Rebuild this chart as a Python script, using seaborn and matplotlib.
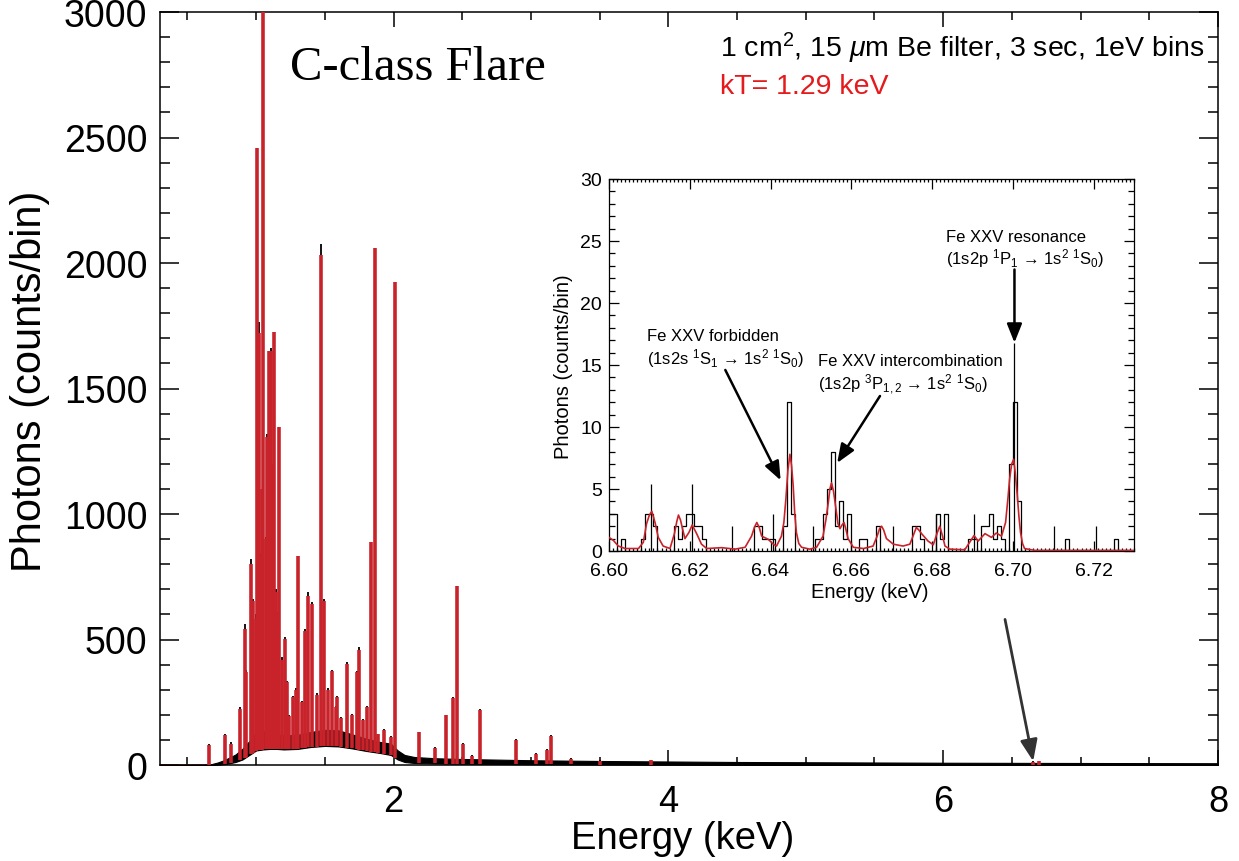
import numpy as np
import pandas as pd
import matplotlib
matplotlib.use("Agg")
import matplotlib.pyplot as plt
from matplotlib.ticker import MultipleLocator, FixedLocator, FormatStrFormatter
import seaborn as sns

# <--- main spectrum (0.3 - 8 keV) --->
# black data: noisy continuum drawn as a band between low and high envelope
cont_kev = [0.30, 0.55, 0.62, 0.68, 0.72, 0.76, 0.80, 0.85, 0.90, 0.95, 1.00, 1.05,
            1.10, 1.15, 1.20, 1.30, 1.40, 1.50, 1.60, 1.70, 1.80, 1.90, 1.98, 2.03,
            2.08, 2.15, 2.30, 2.50, 2.80, 3.00, 3.50, 4.00, 4.50, 5.00, 6.00, 7.00, 8.00]
cont_low = [0, 0, 0, 0, 1, 3, 6, 12, 22, 40, 58, 62,
            64, 64, 62, 64, 72, 76, 74, 66, 56, 48, 40, 22,
            12, 8, 6, 5, 4, 3, 2, 1, 0.5, 0, 0, 0, 0]
cont_high = [0, 0, 0, 4, 10, 18, 28, 42, 65, 95, 130, 135,
             128, 122, 118, 120, 132, 140, 138, 122, 105, 92, 85, 58,
             40, 32, 27, 24, 21, 19, 16, 14, 12, 11, 9, 8, 7]
model_cont = [0, 0, 0, 1, 4, 8, 14, 23, 38, 58, 80, 85,
              85, 82, 80, 80, 88, 95, 95, 85, 72, 62, 56, 36,
              25, 19, 16, 14, 12, 11, 8, 7, 5, 4, 3, 2, 2]

# emission lines: energy, model (red) height, data (black) height
line_kev = [0.653, 0.773, 0.815, 0.883, 0.917, 0.926, 0.965, 0.975, 0.997, 1.009,
            1.020, 1.033, 1.045, 1.053, 1.072, 1.082, 1.094, 1.106, 1.118, 1.130,
            1.142, 1.155, 1.166, 1.185, 1.208, 1.225, 1.239, 1.271, 1.290, 1.304,
            1.330, 1.353, 1.380, 1.409, 1.440, 1.474, 1.494, 1.520, 1.555, 1.580,
            1.591, 1.615, 1.659, 1.700, 1.731, 1.748, 1.780, 1.810, 1.838, 1.864,
            1.889, 1.930, 1.984, 2.010, 2.184, 2.299, 2.378, 2.434, 2.464, 2.507,
            2.573, 2.628, 2.888, 3.040, 3.113, 3.147, 3.288, 3.505, 3.870, 6.650,
            6.700]
line_model = [80, 120, 84, 223, 540, 369, 800, 655, 582, 2457,
              1720, 827, 1100, 3500, 900, 1308, 1650, 1650, 1200, 1725,
              688, 600, 1345, 420, 502, 330, 196, 269, 300, 831,
              250, 535, 675, 642, 280, 2030, 655, 300, 376, 230,
              269, 186, 402, 200, 372, 460, 180, 230, 887, 2058,
              122, 140, 110, 1923, 130, 66, 199, 266, 712, 84,
              36, 219, 100, 44, 61, 117, 24, 17, 20, 12,
              14]
line_data = [85, 125, 90, 230, 562, 380, 821, 660, 600, 2440,
             1765, 840, 1080, 3500, 910, 1320, 1600, 1660, 1190, 1700,
             700, 610, 1330, 430, 510, 335, 200, 275, 305, 825,
             255, 540, 690, 650, 285, 2076, 660, 305, 380, 235,
             275, 190, 410, 205, 375, 470, 185, 235, 880, 2050,
             125, 145, 115, 1900, 132, 70, 200, 270, 700, 86,
             40, 225, 102, 46, 63, 120, 26, 19, 15, 14,
             15]

# <--- inset: Fe XXV triplet, 1 eV bins starting at 6.600 keV --->
hist_counts = [3, 3, 0, 1, 0, 0, 0, 0, 1, 3,
               3, 2, 0, 0, 0, 0, 2, 1, 2, 3,
               3, 2, 2, 1, 0, 0, 0, 0, 0, 0,
               0, 0, 0, 0, 0, 0, 2, 2, 1, 1,
               1, 0, 0, 2, 12, 3, 0, 0, 0, 0,
               0, 1, 1, 3, 5, 8, 2, 4, 1, 3,
               0, 0, 1, 1, 0, 0, 2, 0, 0, 0,
               0, 0, 0, 0, 0, 2, 2, 1, 0, 0,
               0, 3, 1, 3, 0, 0, 0, 0, 0, 1,
               1, 0, 2, 2, 3, 1, 2, 1, 0, 7,
               12, 4, 0, 0, 0, 0, 0, 0, 0, 0,
               0, 0, 0, 1, 0, 0, 0, 0, 0, 0,
               0, 0, 0, 0, 0, 1, 0, 0, 0, 0]
# thin single-bin spikes (eV above 6.600 keV)
spike_ev = [10.5, 20.5, 30.4, 40.5, 50.5, 70.4, 80.9, 90.4, 100.2, 110.3, 120.5]
spike_top = [5.4, 5.4, 2.0, 3.0, 2.0, 2.0, 3.0, 3.0, 16.8, 2.0, 2.0]
# red model curve
model_ev = [0, 1.1, 2.3, 4.0, 7.3, 8.5, 9.3, 10.0, 10.6, 11.4, 12.2, 13.4, 15.1, 16.2,
            16.8, 17.2, 17.7, 18.2, 18.8, 19.8, 20.6, 21.7, 22.9, 24.2, 27.9, 31.2,
            33.7, 35.3, 36.0, 36.6, 37.2, 37.8, 39.4, 40.7, 41.5, 42.7, 43.3, 43.8,
            44.3, 44.8, 45.2, 45.6, 46.0, 46.4, 47.0, 47.7, 49.7, 51.4, 53.0, 53.7,
            54.3, 54.7, 55.1, 55.6, 56.2, 56.7, 57.2, 57.7, 58.2, 58.7, 59.2, 60.5,
            63.0, 65.4, 66.4, 67.0, 67.5, 68.0, 68.7, 70.4, 72.8, 74.5, 75.4, 76.1,
            76.7, 77.4, 79.0, 80.3, 81.2, 81.9, 82.6, 83.2, 84.4, 88.1, 89.3, 90.4,
            91.4, 93.1, 94.7, 95.9, 97.2, 98.2, 98.8, 99.2, 99.7, 100.2, 100.6, 101.1,
            101.5, 101.9, 102.4, 102.9, 105.4, 130.0]
model_counts = [1.1, 0.85, 0.4, 0.2, 0.2, 0.7, 2.2, 2.9, 3.2, 2.3, 1.1, 0.4, 0.2, 1.4,
                2.4, 2.9, 2.5, 1.8, 1.0, 1.5, 2.1, 1.4, 0.55, 0.2, 0.27, 0.15,
                0.3, 1.2, 1.9, 2.3, 1.9, 1.2, 0.95, 0.55, 0.4, 1.2, 2.3, 4.2,
                6.5, 7.8, 6.9, 5.3, 3.0, 1.5, 0.6, 0.3, 0.15, 0.3, 1.2, 2.5,
                3.9, 5.0, 5.5, 4.8, 3.4, 2.2, 1.8, 2.1, 2.3, 1.7, 1.0, 0.3,
                0.2, 0.4, 1.2, 1.8, 2.0, 1.7, 1.0, 0.55, 0.4, 0.55, 1.3, 1.9,
                1.7, 1.4, 0.8, 0.5, 1.4, 2.0, 1.2, 0.4, 0.15, 0.1, 0.7, 1.25,
                0.8, 1.4, 1.1, 1.45, 1.2, 2.3, 4.3, 5.8, 7.0, 7.4, 6.3, 4.5,
                2.8, 1.5, 0.6, 0.2, 0.05, 0.05]

red = "#c8232b"
txt_red = "#e41a1c"

sns.set_theme(style="ticks")
plt.rcParams["font.family"] = ["Liberation Sans", "DejaVu Sans"]
plt.rcParams["mathtext.fontset"] = "custom"
plt.rcParams["mathtext.rm"] = "Liberation Sans"
plt.rcParams["mathtext.it"] = "Liberation Sans:italic"
plt.rcParams["text.color"] = "black"
plt.rcParams["axes.labelcolor"] = "black"

fig = plt.figure(figsize=(12.39, 8.62), dpi=100)
ax = fig.add_axes([160 / 1239, 96 / 862, 1058 / 1239, 753 / 862])

# main spectrum
sns.lineplot(x=cont_kev, y=model_cont, color=red, linewidth=1.0, ax=ax, zorder=1)
ax.fill_between(cont_kev, cont_low, cont_high, color="black", linewidth=0.8, zorder=2)
base = np.interp(line_kev, cont_kev, cont_low)
ax.vlines(line_kev, base, line_data, color="black", linewidth=1.3, zorder=3)
ax.vlines(line_kev, base, line_model, color=red, linewidth=2.6, zorder=4)

ax.set_xlim(0.3, 8.0)
ax.set_ylim(0, 3000)
ax.xaxis.set_major_locator(FixedLocator([2, 4, 6, 8]))
ax.xaxis.set_minor_locator(MultipleLocator(0.5))
ax.yaxis.set_major_locator(MultipleLocator(500))
ax.yaxis.set_minor_locator(MultipleLocator(100))
ax.tick_params(axis="both", which="both", direction="in", top=True, right=True,
               width=1.1, colors="black")
ax.tick_params(axis="x", which="major", length=11, pad=14, labelsize=26)
ax.tick_params(axis="x", which="minor", length=6)
ax.tick_params(axis="y", which="major", length=14, pad=9, labelsize=27)
ax.tick_params(axis="y", which="minor", length=7)
for s in ax.spines.values():
    s.set_linewidth(1.1)
    s.set_color("black")

ax.set_xlabel("Energy (keV)", fontsize=27.5)
ax.set_ylabel("Photons (counts/bin)", fontsize=30)
ax.xaxis.label.set_va("center")
ax.yaxis.label.set_va("center")
ax.xaxis.set_label_coords(0.494, -0.097)
ax.yaxis.set_label_coords(-0.123, 0.511)

ax.text(0.123, 0.927, "C-class Flare", transform=ax.transAxes, fontsize=35,
        family="Liberation Serif", va="center", ha="left")
ax.text(0.529, 0.953, r"1 cm$^2$, 15 $\mu$m Be filter, 3 sec, 1eV bins",
        transform=ax.transAxes, fontsize=20.5, va="center", ha="left")
ax.text(0.529, 0.902, "kT= 1.29 keV", transform=ax.transAxes, fontsize=20.5,
        color=txt_red, va="center", ha="left")

ax.annotate("", xy=(6.655, 15), xytext=(6.45, 580),
            arrowprops=dict(arrowstyle="-|>,head_length=1.0,head_width=0.4",
                            mutation_scale=13, color="#333333", lw=2.0,
                            shrinkA=0, shrinkB=0),
            zorder=5)

# inset
axin = fig.add_axes([609 / 1239, 310 / 862, 525 / 1239, 372 / 862])
e0 = 6.600
edges = [e0 + i * 0.001 for i in range(len(hist_counts) + 1)]
hist_df = pd.DataFrame({"energy": [e + 0.0005 for e in edges[:-1]],
                        "counts": hist_counts})
sns.histplot(data=hist_df, x="energy", weights="counts", bins=edges, element="step",
             fill=False, color="black", linewidth=0.9, ax=axin, zorder=2)
axin.vlines(e0 + np.array(spike_ev) / 1000.0, 0, spike_top, color="black",
            linewidth=0.9, zorder=2)
sns.lineplot(x=e0 + np.array(model_ev) / 1000.0, y=model_counts, color=red,
             linewidth=1.2, ax=axin, zorder=3)

axin.set_xlim(6.60, 6.73)
axin.set_ylim(0, 30)
axin.xaxis.set_major_locator(MultipleLocator(0.02))
axin.xaxis.set_minor_locator(MultipleLocator(0.001))
axin.xaxis.set_major_formatter(FormatStrFormatter("%.2f"))
axin.yaxis.set_major_locator(MultipleLocator(5))
axin.yaxis.set_minor_locator(MultipleLocator(1))
axin.tick_params(axis="both", which="both", direction="in", top=True, right=True,
                 width=0.9, colors="black", labelsize=14)
axin.tick_params(axis="both", which="major", length=7)
axin.tick_params(axis="x", which="major", pad=8)
axin.tick_params(axis="y", which="major", pad=5)
axin.tick_params(axis="x", which="minor", length=2)
axin.tick_params(axis="y", which="minor", length=4)
for s in axin.spines.values():
    s.set_linewidth(0.9)
    s.set_color("black")
axin.set_xlabel("Energy (keV)", fontsize=14.5)
axin.set_ylabel("Photons (counts/bin)", fontsize=14.5)
axin.xaxis.label.set_va("center")
axin.yaxis.label.set_va("center")
axin.xaxis.set_label_coords(0.497, -0.110)
axin.yaxis.set_label_coords(-0.086, 0.497)

ann = dict(fontsize=12, va="center", ha="left")
axin.text(6.6093, 17.4, "Fe XXV forbidden", **ann)
axin.text(6.6093, 15.6, "(1s2s $^{1}$S$_{1}$ \u2192 1s$^{2}$ $^{1}$S$_{0}$)", **ann)
axin.text(6.6517, 15.4, "Fe XXV intercombination", **ann)
axin.text(6.6517, 13.5, "(1s2p $^{3}$P$_{1,2}$ \u2192 1s$^{2}$ $^{1}$S$_{0}$)", **ann)
axin.text(6.6834, 25.4, "Fe XXV resonance", **ann)
axin.text(6.6834, 23.7, "(1s2p $^{1}$P$_{1}$ \u2192 1s$^{2}$ $^{1}$S$_{0}$)", **ann)

arrow = dict(arrowstyle="-|>,head_length=0.95,head_width=0.38", mutation_scale=12,
             color="black", lw=1.8, shrinkA=0, shrinkB=0)
axin.annotate("", xy=(6.6425, 5.7), xytext=(6.6288, 14.6), arrowprops=arrow)
axin.annotate("", xy=(6.6565, 7.1), xytext=(6.6671, 12.5), arrowprops=arrow)
axin.annotate("", xy=(6.7004, 16.8), xytext=(6.7004, 22.7), arrowprops=arrow)

fig.savefig("out.png", dpi=100)
